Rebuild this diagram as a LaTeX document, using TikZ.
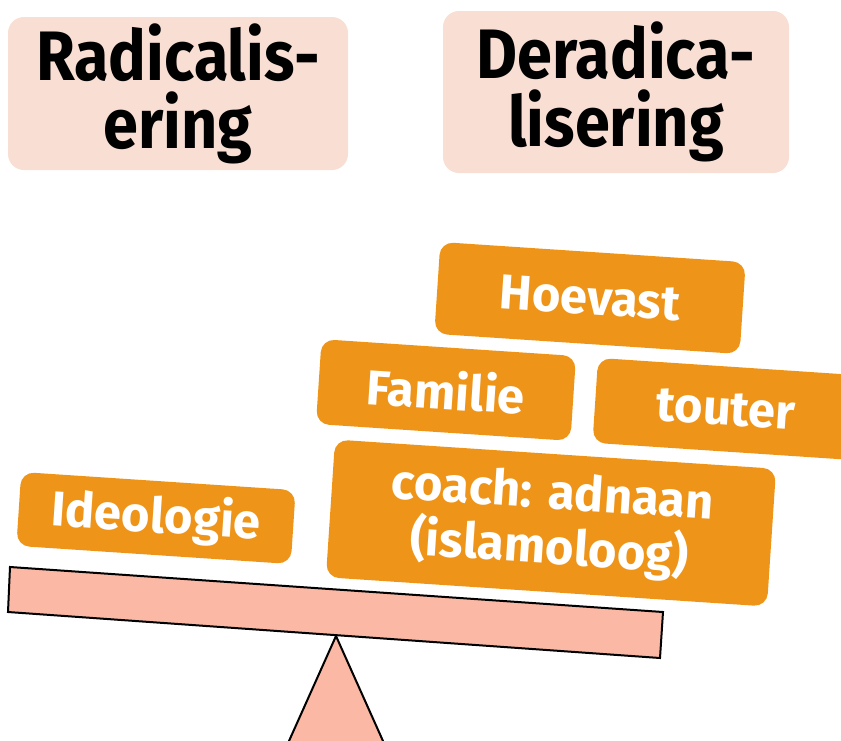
\documentclass[tikz,border=0pt]{standalone}
\usepackage{fontspec}
\setmainfont{Fira Sans}
\newfontfamily\titlefont[FakeStretch=0.9]{Fira Sans}
\definecolor{titlebg}{HTML}{F8DED3}
\definecolor{tagorange}{HTML}{EE9519}
\definecolor{beamfill}{HTML}{FBB8A5}
\tikzset{
  titlebox/.style={fill=titlebg, rounded corners=16pt, inner sep=0pt, align=center,
    font=\titlefont\bfseries\fontsize{70}{68}\selectfont, text=black},
  tag/.style={fill=tagorange, rounded corners=13pt, inner sep=0pt, align=center,
    rotate=-3.8, text=white, font=\bfseries\fontsize{49}{55}\selectfont},
  beam/.style={fill=beamfill, draw=black, line width=2pt, line join=miter}
}
\begin{document}
\begin{tikzpicture}[x=1pt,y=-1pt]
\useasboundingbox (0,0) rectangle (841,740);
% titles
\node[titlebox, minimum width=340pt, minimum height=153pt] (rad) at (178,93.5) {Radicalis-\\ering};
\node[titlebox, minimum width=346pt, minimum height=162pt] (derad) at (616,92) {Deradica-\\lisering};
% fulcrum
\begin{scope}
\clip (0,0) rectangle (841,740);
\draw[beam] (336,636) -- (396,770) -- (276,770) -- cycle;
\end{scope}
\coordinate (apex) at (336,636);
% beam
\draw[beam] (10,567) -- (663,612) -- (660,658) -- (8,612) -- cycle;
% tags
\node[tag, minimum width=306pt, minimum height=92pt] (hoe) at (590,298) {Hoevast};
\node[tag, minimum width=255pt, minimum height=85pt] (fam) at (446,390) {Familie};
\node[tag, minimum width=262pt, minimum height=85pt] (tou) at (726,409) {touter};
\node[tag, minimum width=442pt, minimum height=138pt] (coach) at (551,523) {coach: adnaan\\(islamoloog)};
\node[tag, minimum width=275pt, minimum height=74pt] (ideo) at (156,518) {Ideologie};
\end{tikzpicture}
\end{document}
